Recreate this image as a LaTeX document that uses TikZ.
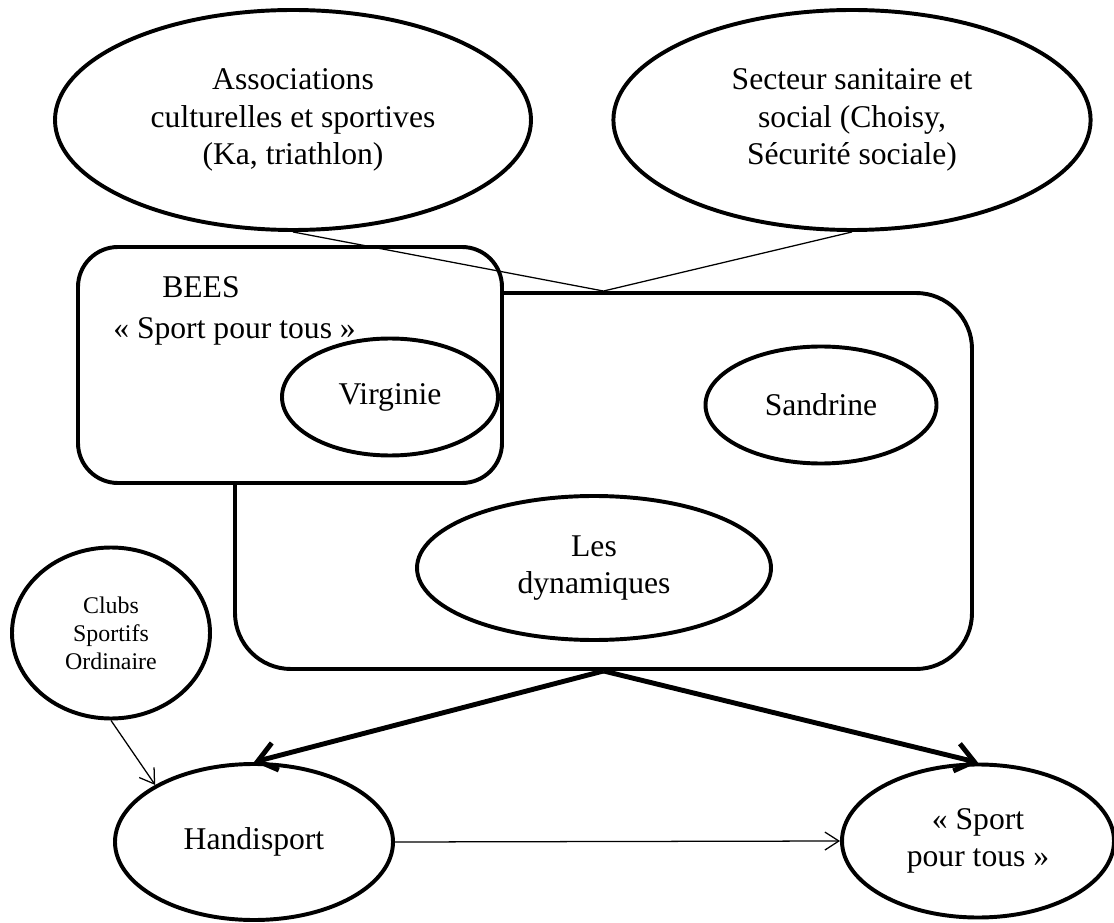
\documentclass[tikz,border=0pt]{standalone}
\usepackage{fontspec}
\setmainfont{Liberation Serif}
\usepackage{tikz}
\usetikzlibrary{arrows.meta, positioning, shapes.geometric}

\begin{document}
\begin{tikzpicture}[
  bubble/.style={draw, ellipse, line width=2.8pt, inner sep=0pt, align=center, font=\fontsize{22.5}{26.5}\selectfont},
  roundbox/.style={draw, rectangle, line width=2.8pt, inner sep=0pt},
  plaintext/.style={inner sep=0pt, anchor=base west, font=\fontsize{22.5}{26.5}\selectfont},
  thinline/.style={line width=0.9pt},
  thinarrow/.style={line width=0.9pt, -{Straight Barb[length=3.5mm, width=4.5mm]}},
  thickarrow/.style={line width=3.5pt, -{Straight Barb[length=4.5mm, width=7mm]}}
]
\useasboundingbox (0,0) rectangle (27.85,23.05);

% Top ellipses
\node[bubble, minimum width=11.9cm, minimum height=5.5cm] (assoc) at (7.325,20.05) {Associations\\culturelles et sportives\\(Ka, triathlon)};
\node[bubble, minimum width=11.93cm, minimum height=5.5cm] (secteur) at (21.3,20.05) {Secteur sanitaire et\\social (Choisy,\\Sécurité sociale)};

% Big box and BEES box
\node[roundbox, rounded corners=1.4cm, minimum width=18.425cm, minimum height=9.4cm] (bigbox) at (15.0875,11.025) {};
\node[roundbox, rounded corners=1cm, fill=white, minimum width=10.6cm, minimum height=5.9cm] (beesbox) at (7.25,13.925) {};
\node[plaintext] (beestitle) at (4.05,15.6) {BEES};
\node[plaintext] (beessub) at (2.825,14.575) {« Sport pour tous »};

% People inside
\node[bubble, minimum width=5.4cm, minimum height=2.925cm] (virginie) at (9.75,13.125) {Virginie};
\node[bubble, minimum width=5.775cm, minimum height=2.925cm] (sandrine) at (20.525,12.925) {Sandrine};
\node[bubble, minimum width=8.85cm, minimum height=3.6cm] (dyn) at (14.85,8.85) {Les\\dynamiques};

% Bottom ellipses
\node[bubble, font=\fontsize{17}{20}\selectfont, minimum width=4.95cm, minimum height=4.275cm] (clubs) at (2.775,7.225) {Clubs\\Sportifs\\Ordinaire};
\node[bubble, minimum width=6.95cm, minimum height=3.9cm] (handi) at (6.35,2.0) {Handisport};
\node[bubble, minimum width=6.8cm, minimum height=3.825cm] (sport) at (24.45,2.025) {« Sport\\pour tous »};

% Connectors
\draw[thinline] (assoc.south) -- (bigbox.north) -- (secteur.south);
\draw[thickarrow] (bigbox.south) -- (handi.north);
\draw[thickarrow] (bigbox.south) -- (sport.north);
\draw[thinarrow] (clubs.south) -- (handi.150);
\draw[thinarrow] (handi.east) -- (sport.west);
\end{tikzpicture}
\end{document}
